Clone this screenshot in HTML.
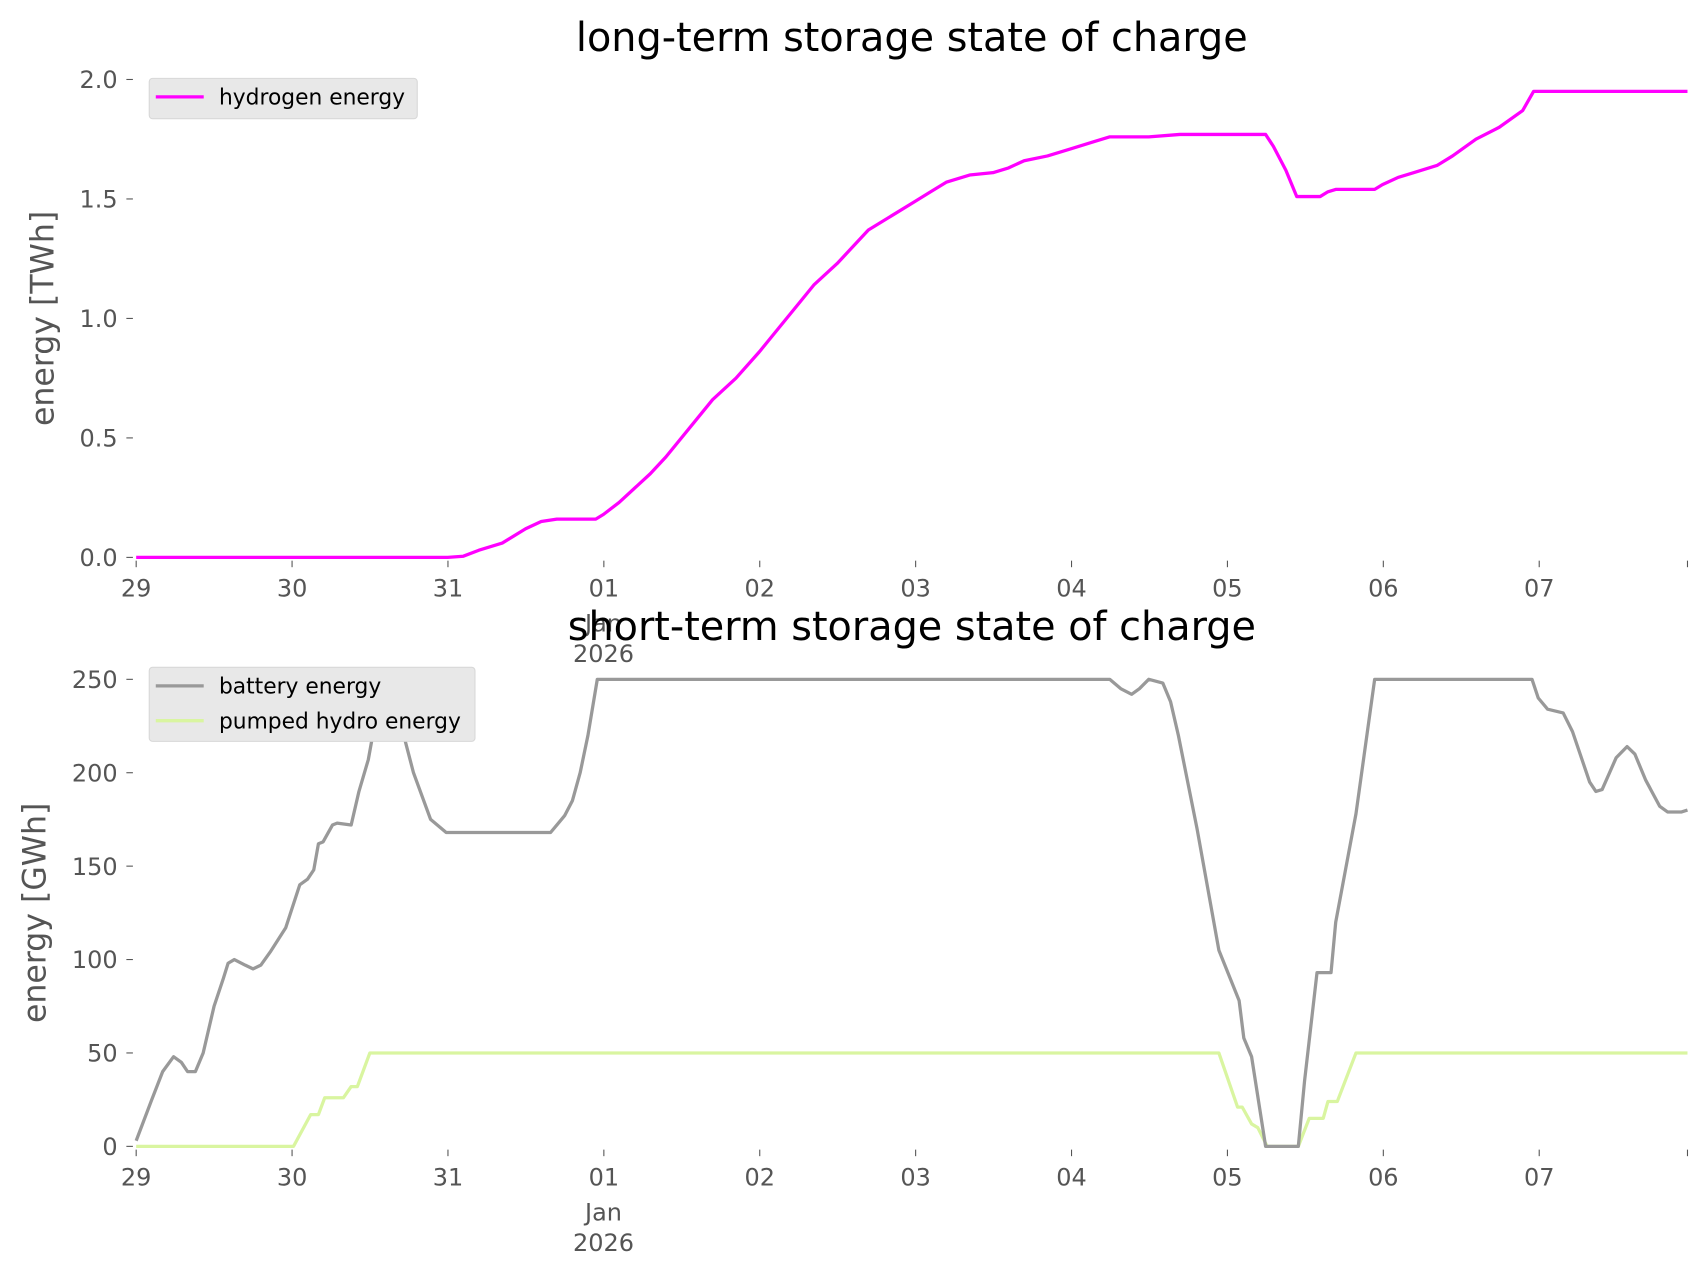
<!DOCTYPE html>
<html><head><meta charset="utf-8"><style>
html,body{margin:0;padding:0;background:#fff;}
svg{display:block;font-family:"DejaVu Sans","Liberation Sans",sans-serif;}
</style></head><body>
<svg id="chart" width="1706" height="1277" viewBox="0 0 1566 1173" preserveAspectRatio="none"></svg>
<script>
// x values in days since 29 Dec 2025 00:00
const xTickLabels = ["29","30","31","01","02","03","04","05","06","07"];
const h2Days = [0,2.0,2.1,2.2,2.35,2.5,2.6,2.7,2.95,3.0,3.1,3.3,3.4,3.6,3.7,3.85,4.0,4.1,4.25,4.35,4.5,4.7,4.85,5.0,5.1,5.2,5.35,5.5,5.6,5.7,5.85,6.0,6.15,6.25,6.5,6.7,7.25,7.3,7.38,7.45,7.55,7.6,7.65,7.7,7.95,8.0,8.1,8.2,8.35,8.45,8.6,8.75,8.9,8.97,9.958];
const h2Vals = [0,0,0.005,0.03,0.06,0.12,0.15,0.16,0.16,0.18,0.23,0.35,0.42,0.58,0.66,0.75,0.86,0.94,1.06,1.14,1.23,1.37,1.43,1.49,1.53,1.57,1.60,1.61,1.63,1.66,1.68,1.71,1.74,1.76,1.76,1.77,1.77,1.72,1.62,1.51,1.51,1.51,1.53,1.54,1.54,1.56,1.59,1.61,1.64,1.68,1.75,1.80,1.87,1.95,1.95];
const batDays = [0,0.1,0.17,0.24,0.29,0.33,0.38,0.43,0.5,0.56,0.59,0.63,0.7,0.75,0.8,0.86,0.96,1.05,1.1,1.14,1.17,1.2,1.26,1.29,1.38,1.43,1.49,1.54,1.57,1.61,1.68,1.78,1.89,1.99,2.66,2.7,2.75,2.8,2.85,2.9,2.96,6.25,6.32,6.39,6.44,6.5,6.59,6.64,6.69,6.81,6.95,7.08,7.11,7.16,7.25,7.46,7.5,7.58,7.67,7.7,7.83,7.95,8.96,9.0,9.06,9.16,9.22,9.33,9.37,9.41,9.5,9.57,9.62,9.69,9.78,9.83,9.92,9.958];
const batVals = [3,25,40,48,45,40,40,50,75,90,98,100,97,95,97,104,117,140,143,148,162,163,172,173,172,190,207,230,250,248,232,200,175,168,168,172,177,185,200,220,250,250,245,242,245,250,248,238,220,170,105,78,58,48,0,0,35,93,93,120,178,250,250,240,234,232,222,195,190,191,208,214,210,196,182,179,179,180];
const phDays = [0,1.01,1.12,1.17,1.21,1.33,1.38,1.42,1.5,6.95,7.07,7.1,7.16,7.2,7.26,7.46,7.53,7.62,7.65,7.71,7.83,9.958];
const phVals = [0,0,17,17,26,26,32,32,50,50,21,21,12,10,0,0,15,15,24,24,50,50];
const topTicks = [0,0.5,1.0,1.5,2.0];
const botTicks = [0,50,100,150,200,250];

const NS="http://www.w3.org/2000/svg";
const svg=document.getElementById('chart');
function el(tag,attrs,text){const e=document.createElementNS(NS,tag);for(const k in attrs)e.setAttribute(k,attrs[k]);if(text!==undefined)e.textContent=text;svg.appendChild(e);return e;}
const X0=125,X1=1549,XMAX=9.958;
const xs=d=>X0+(X1-X0)*d/XMAX;
function axes(yBase,yTop,vmax,ticks,fmt,title,titleY,ylabel,ylabelX){
  const ys=v=>yBase-(yBase-yTop)*v/vmax;
  const t=el('text',{x:837,y:titleY,'text-anchor':'middle','font-size':36.5,fill:'#000'},title);
  
  ticks.forEach(v=>{
    const y=ys(v);
    const l=el('line',{x1:116,x2:122,y1:y,y2:y,stroke:'#555','stroke-width':1});
    
    const tx=el('text',{x:108,y:y+8,'text-anchor':'end','font-size':22,fill:'#555'},fmt(v));
    
  });
  for(let i=0;i<=10;i++){
    const xx=i===10?X1:X0+i*143.1;
    const l=el('line',{x1:xx,x2:xx,y1:yBase+3,y2:yBase+9,stroke:'#555','stroke-width':1});
    
    if(i<10){
      const tx=el('text',{x:xx,y:yBase+36,'text-anchor':'middle','font-size':22,fill:'#555'},xTickLabels[i]);
      
    }
  }
  const m=el('text',{x:xs(3),y:yBase+68,'text-anchor':'middle','font-size':22,fill:'#555'},'Jan');
  
  const yr=el('text',{x:xs(3),y:yBase+96,'text-anchor':'middle','font-size':22,fill:'#555'},'2026');
  
  const cy=(yBase+yTop)/2;
  const yl=el('text',{x:ylabelX,y:cy,'text-anchor':'middle','font-size':29,fill:'#555',transform:`rotate(-90 ${ylabelX} ${cy})`},ylabel);
  
  return ys;
}
function line(days,vals,ys,color,name){
  const d=days.map((t,i)=>(i?'L':'M')+xs(t).toFixed(2)+','+ys(vals[i]).toFixed(2)).join('');
  const p=el('path',{d:d,fill:'none',stroke:color,'stroke-width':3,'stroke-linejoin':'round'});
  
}
function legend(x,y,w,h,items){
  const r=el('rect',{x:x,y:y,width:w,height:h,rx:3,fill:'#e8e8e8',stroke:'#d8d8d8'});
  
  items.forEach((it,i)=>{
    const cy=y+17+i*32;
    const l=el('line',{x1:x+6,x2:x+50,y1:cy,y2:cy,stroke:it[1],'stroke-width':3});
    
    const t=el('text',{x:x+64,y:cy+7,'font-size':20,fill:'#000'},it[0]);
    
  });
}
const ysTop=axes(512,73,2.0,topTicks,v=>v.toFixed(1),'long-term storage state of charge',47,'energy [TWh]',49);
line(h2Days,h2Vals,ysTop,'#ff00ff','hydrogen-line');
legend(137,72,246,37,[['hydrogen energy','#ff00ff']]);
const ysBot=axes(1053,624,250,botTicks,v=>String(v),'short-term storage state of charge',588,'energy [GWh]',42);
line(phDays,phVals,ysBot,'#d9f5a0','pumped-hydro-line');
line(batDays,batVals,ysBot,'#999999','battery-line');
legend(137,613,299,68,[['battery energy','#999999'],['pumped hydro energy','#d9f5a0']]);
</script>
</body></html>
